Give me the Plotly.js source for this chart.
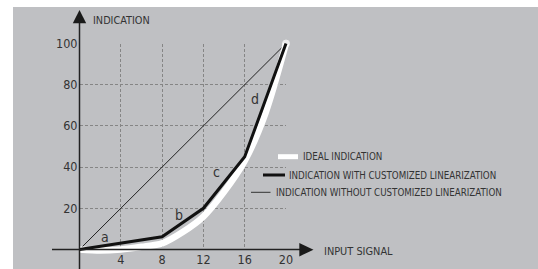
<!DOCTYPE html>
<html>
<head>
<meta charset="utf-8">
<script src="https://cdn.plot.ly/plotly-3.0.1.min.js"></script>
<style>html,body{margin:0;padding:0;background:#fff;}#chart{width:538px;height:269px;}</style>
</head>
<body>
<div id="chart"></div>
<script>
// ---- data ----
const xIdeal = [0, 2, 4, 6, 8, 10, 12, 14, 16, 18, 20];
const yIdeal = [0, -0.5, 0, 1.3, 3, 8.5, 16, 28, 43, 66, 100];
const xCustom = [0, 8, 12, 16, 20];
const yCustom = [0, 6.2, 20, 45, 100];
const xLinear = [0, 20];
const yLinear = [0, 100];
const segLabels = ['a', 'b', 'c', 'd'];
const segX = [2.5, 9.6, 13.3, 17.0];
const segY = [6.2, 16.6, 37.5, 72.9];
const xTicks = [4, 8, 12, 16, 20];
const xTickText = ['4', '8', '12', '16', '20'];
const yTicks = [20, 40, 60, 80, 100];
const yTickText = ['20', '40', '60', '80', '100'];
const seriesNames = ['IDEAL INDICATION', 'INDICATION WITH CUSTOMIZED LINEARIZATION', 'INDICATION WITHOUT CUSTOMIZED LINEARIZATION'];
const xTitle = 'INPUT SIGNAL';
const yTitle = 'INDICATION';

// ---- geometry ----
const W = 538, H = 269, ML = 13, MT = 7;
const PW = W - ML, PH = H - MT;
const FONT = '"DejaVu Sans Condensed", "Liberation Sans Narrow", sans-serif';
const TXT = '#333333';
const BG = '#bfc0c3';
const px0 = 79.5, px20 = 286, py0 = 249.5, py100 = 43.5;
const kx = (px20 - px0) / 20, ky = (py0 - py100) / 100;
const x2range = [-(px0 - ML) / kx, (W - px0) / kx];
const y2range = [-(H - py0) / ky, (py0 - MT) / ky];
const xdom = [(px0 - ML) / PW, (px20 - ML) / PW];
const ydom = [(H - py0) / PH, (H - py100) / PH];
const pX = px => (px - ML) / PW;
const pY = py => (H - py) / PH;
const dX = px => (px - px0) / kx;
const dY = py => (py0 - py) / ky;

const traces = [
  {x: xLinear, y: yLinear, xaxis: 'x', yaxis: 'y', mode: 'lines', name: seriesNames[2],
   line: {color: '#222222', width: 1}, showlegend: false, hoverinfo: 'skip', cliponaxis: false},
  {x: xIdeal, y: yIdeal, xaxis: 'x2', yaxis: 'y2', mode: 'lines+markers', name: seriesNames[0],
   line: {color: '#ffffff', width: 6.5, shape: 'spline', smoothing: 0.8},
   marker: {color: '#ffffff', size: xIdeal.map((v, i) => i === xIdeal.length - 1 ? 7 : 0)},
   showlegend: false, hoverinfo: 'skip'},
  {x: xCustom, y: yCustom, xaxis: 'x2', yaxis: 'y2', mode: 'lines', name: seriesNames[1],
   line: {color: '#111111', width: 3}, showlegend: false, hoverinfo: 'skip'}
];

const axisColor = '#222222';
const shapes = [
  {type: 'rect', xref: 'paper', yref: 'paper', x0: 0, x1: 1, y0: 0, y1: 1, layer: 'below', fillcolor: BG, line: {width: 0}},
  {type: 'line', xref: 'x2', yref: 'y2', x0: 0, x1: 0, y0: y2range[0], y1: dY(23), line: {color: axisColor, width: 1.5}},
  {type: 'path', xref: 'x2', yref: 'y2', fillcolor: '#1a1a1a', line: {width: 0},
   path: `M ${dX(72.8)},${dY(23.3)} L ${dX(86.2)},${dY(23.3)} L ${dX(79.5)},${dY(10)} Z`},
  {type: 'line', xref: 'x2', yref: 'y2', x0: dX(52), x1: dX(300), y0: 0, y1: 0, line: {color: axisColor, width: 1.5}},
  {type: 'path', xref: 'x2', yref: 'y2', fillcolor: '#1a1a1a', line: {width: 0},
   path: `M ${dX(299.3)},${dY(243)} L ${dX(299.3)},${dY(256.4)} L ${dX(313.5)},${dY(249.7)} Z`},
  {type: 'line', xref: 'paper', yref: 'paper', x0: pX(278), x1: pX(298), y0: pY(156.7), y1: pY(156.7), line: {color: '#ffffff', width: 5}},
  {type: 'line', xref: 'paper', yref: 'paper', x0: pX(263), x1: pX(285), y0: pY(175), y1: pY(175), line: {color: '#111111', width: 3}},
  {type: 'line', xref: 'paper', yref: 'paper', x0: pX(251), x1: pX(270.5), y0: pY(192.3), y1: pY(192.3), line: {color: '#333333', width: 1}}
];

const annotations = [];
segLabels.forEach((t, i) => annotations.push({
  xref: 'x2', yref: 'y2', x: segX[i], y: segY[i], text: t, showarrow: false,
  font: {family: FONT, size: 14, color: TXT}, xanchor: 'center', yanchor: 'middle'
}));
const legX = [301.5, 288.3, 275];
const legY = [156.7, 175, 192.3];
seriesNames.forEach((t, i) => annotations.push({
  xref: 'paper', yref: 'paper', x: pX(legX[i]), y: pY(legY[i]), text: t, showarrow: false,
  font: {family: FONT, size: 9.7, color: TXT}, xanchor: 'left', yanchor: 'middle', borderpad: 0
}));
annotations.push({xref: 'paper', yref: 'paper', x: pX(91.5), y: pY(20), text: yTitle, showarrow: false,
  font: {family: FONT, size: 10.8, color: TXT}, xanchor: 'left', yanchor: 'middle', borderpad: 0});
annotations.push({xref: 'paper', yref: 'paper', x: pX(323), y: pY(251.7), text: xTitle, showarrow: false,
  font: {family: FONT, size: 10.9, color: TXT}, xanchor: 'left', yanchor: 'middle', borderpad: 0});

const gridCommon = {showgrid: true, gridcolor: '#858585', gridwidth: 1, griddash: '3px,2px',
  zeroline: false, showline: false, ticks: '', tickfont: {family: FONT, size: 12.5, color: TXT}, fixedrange: true};

const layout = {
  width: W, height: H,
  margin: {l: ML, r: 0, t: MT, b: 0, pad: 0},
  paper_bgcolor: '#ffffff', plot_bgcolor: 'rgba(0,0,0,0)',
  showlegend: false,
  xaxis: Object.assign({}, gridCommon, {domain: xdom, range: [0, 20], anchor: 'y',
    tickmode: 'array', tickvals: xTicks, ticktext: xTickText, ticklabelstandoff: 1}),
  yaxis: Object.assign({}, gridCommon, {domain: ydom, range: [0, 100], anchor: 'x',
    tickmode: 'array', tickvals: yTicks, ticktext: yTickText, ticklabelstandoff: 1}),
  xaxis2: {domain: [0, 1], range: x2range, anchor: 'y2', visible: false, fixedrange: true},
  yaxis2: {domain: [0, 1], range: y2range, anchor: 'x2', visible: false, fixedrange: true},
  shapes: shapes,
  annotations: annotations
};

Plotly.newPlot('chart', traces, layout, {displayModeBar: false, staticPlot: true});
</script>
</body>
</html>
